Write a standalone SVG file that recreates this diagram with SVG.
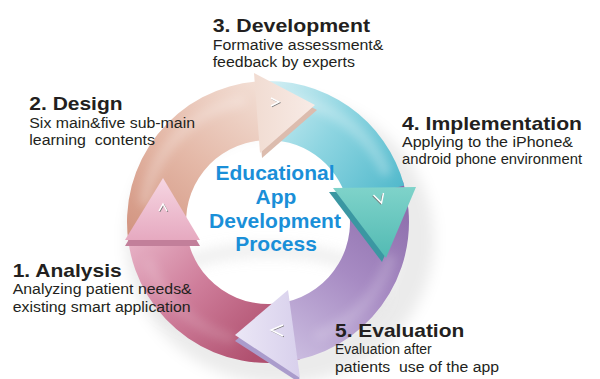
<svg xmlns="http://www.w3.org/2000/svg" width="600" height="379" viewBox="0 0 600 379">
<style>
.h{font-family:"Liberation Sans",Arial,sans-serif;font-weight:bold;font-size:19px;fill:#231f20}
.b{font-family:"Liberation Sans",Arial,sans-serif;font-size:14px;fill:#231f20;white-space:pre}
.c{font-family:"Liberation Sans",Arial,sans-serif;font-weight:bold;font-size:21px;fill:#1a8fd8;text-anchor:middle}
.chev{fill:none;stroke:#ffffff;stroke-width:1.4;stroke-linejoin:miter}
.chevs{fill:none;stroke:#7a7a7a;stroke-width:1.2}
.gloss{fill:none;stroke:#ffffff;stroke-linecap:round}
</style>
<defs>
<filter id="blur" x="-30%" y="-30%" width="160%" height="160%"><feGaussianBlur stdDeviation="7"/></filter>
<filter id="soft" x="-30%" y="-30%" width="160%" height="160%"><feGaussianBlur stdDeviation="4"/></filter>
<linearGradient id="gPink" gradientUnits="userSpaceOnUse" x1="260" y1="352" x2="140" y2="235">
<stop offset="0" stop-color="#b0506f"/><stop offset="0.55" stop-color="#cf7e9b"/><stop offset="1" stop-color="#e6b0c4"/></linearGradient>
<linearGradient id="gBeige" gradientUnits="userSpaceOnUse" x1="135" y1="240" x2="255" y2="85">
<stop offset="0" stop-color="#d29480"/><stop offset="0.5" stop-color="#e4b8a7"/><stop offset="1" stop-color="#f2ddd3"/></linearGradient>
<linearGradient id="gCyan" gradientUnits="userSpaceOnUse" x1="262" y1="90" x2="405" y2="195">
<stop offset="0" stop-color="#d4eff4"/><stop offset="0.45" stop-color="#8ed5e1"/><stop offset="1" stop-color="#4db7ca"/></linearGradient>
<linearGradient id="gPurple" gradientUnits="userSpaceOnUse" x1="405" y1="190" x2="290" y2="358">
<stop offset="0" stop-color="#8a6aa9"/><stop offset="0.5" stop-color="#a78bc3"/><stop offset="1" stop-color="#cbbde0"/></linearGradient>
<linearGradient id="hPink" x1="0" y1="1" x2="0" y2="0">
<stop offset="0" stop-color="#e6a9c0"/><stop offset="1" stop-color="#f6d6e2"/></linearGradient>
<linearGradient id="hBeige" x1="0" y1="0" x2="1" y2="0">
<stop offset="0" stop-color="#f1dcd2"/><stop offset="1" stop-color="#f8ebe6"/></linearGradient>
<linearGradient id="hCyan" x1="0" y1="0" x2="0" y2="1">
<stop offset="0" stop-color="#7fd3ca"/><stop offset="1" stop-color="#52bab3"/></linearGradient>
<linearGradient id="hPurple" x1="1" y1="0" x2="0" y2="0">
<stop offset="0" stop-color="#d8d0ec"/><stop offset="1" stop-color="#ebe7f6"/></linearGradient>
</defs>

<g id="shadow">
<ellipse cx="280" cy="240" rx="136" ry="126" fill="none" stroke="#000" stroke-opacity="0.08" stroke-width="36" filter="url(#blur)"/>
<ellipse cx="268" cy="292" rx="112" ry="42" fill="none" stroke="#cfcfcf" stroke-opacity="0.45" stroke-width="10" filter="url(#blur)"/>
</g>

<g id="connectors">
<path d="M128.74,244.06 A141,141 0 0 1 258.16,81.34 L262.28,140.20 A82,82 0 0 0 187.01,234.83 Z" fill="url(#gBeige)"/>
<path d="M299.72,359.39 A141,141 0 0 1 128.37,241.62 L186.80,233.41 A82,82 0 0 0 286.45,301.90 Z" fill="url(#gPink)"/>
<path d="M402.84,180.78 A141,141 0 0 1 297.32,359.92 L285.05,302.21 A82,82 0 0 0 346.42,198.03 Z" fill="url(#gPurple)"/>
<path d="M255.71,81.54 A141,141 0 0 1 404.20,185.51 L347.21,200.78 A82,82 0 0 0 260.85,140.31 Z" fill="url(#gCyan)"/>
<g filter="url(#soft)">
<path class="gloss" d="M145,200 A124,124 0 0 1 240,101" stroke-width="12" stroke-opacity="0.22"/>
<path class="gloss" d="M290,99 A124,124 0 0 1 385,170" stroke-width="12" stroke-opacity="0.25"/>
<path class="gloss" d="M390,260 A124,124 0 0 1 320,335" stroke-width="12" stroke-opacity="0.15"/>
<path class="gloss" d="M230,338 A124,124 0 0 1 150,265" stroke-width="12" stroke-opacity="0.12"/>
</g>
<g id="head-pink">
<polygon points="125,246 163,183 200,246" fill="#c27f9a"/>
<polygon points="125,240 163,178 200,240" fill="url(#hPink)"/>
<polyline class="chevs" points="159,211 163,204 167,211" transform="translate(0.8,0.8)"/>
<polyline class="chev" points="159,211 163,204 167,211"/>
</g>
<g id="head-beige">
<polygon points="256,78 317,110 262,158" fill="#dcbcae"/>
<polygon points="254,73 315,105 260,153" fill="url(#hBeige)"/>
<polyline class="chevs" points="271,98 279,102 271,106" transform="translate(0.8,0.8)"/>
<polyline class="chev" points="271,98 279,102 271,106"/>
</g>
<g id="head-cyan">
<polygon points="329,192 412,191 382,262" fill="#3b97a2"/>
<polygon points="333,188 416,187 386,258" fill="url(#hCyan)"/>
<polyline class="chevs" points="373.5,195 381.5,203 383.5,193" transform="translate(-0.8,0.8)"/>
<polyline class="chev" points="373.5,195 381.5,203 383.5,193"/>
</g>
<g id="head-purple">
<polygon points="288,295 235,341 300,383" fill="#aa9ccc"/>
<polygon points="288,290 235,335 300,378" fill="url(#hPurple)"/>
<polyline class="chevs" points="283,325 271,330 283,336" transform="translate(0.8,0.8)"/>
<polyline class="chev" points="283,325 271,330 283,336"/>
</g>
</g>

<g id="title">
<text class="c" x="275" y="180">Educational</text>
<text class="c" x="276" y="204">App</text>
<text class="c" x="275" y="228">Development</text>
<text class="c" x="276" y="251">Process</text>
</g>

<g id="step1">
<text class="h" x="12.7" y="277" textLength="109" lengthAdjust="spacingAndGlyphs">1. Analysis</text>
<text class="b" x="12.7" y="294" textLength="179" lengthAdjust="spacingAndGlyphs">Analyzing patient needs&amp;</text>
<text class="b" x="12.7" y="311.5" textLength="178" lengthAdjust="spacingAndGlyphs">existing smart application</text>
</g>
<g id="step2">
<text class="h" x="29.3" y="110" textLength="93.3" lengthAdjust="spacingAndGlyphs">2. Design</text>
<text class="b" x="29.3" y="127.5" textLength="165.7" lengthAdjust="spacingAndGlyphs">Six main&amp;five sub-main</text>
<text class="b" x="29.3" y="145" textLength="125.7" lengthAdjust="spacingAndGlyphs" xml:space="preserve">learning  contents</text>
</g>
<g id="step3">
<text class="h" x="212.7" y="31.5" textLength="157.3" lengthAdjust="spacingAndGlyphs">3. Development</text>
<text class="b" x="212.7" y="50" textLength="170.7" lengthAdjust="spacingAndGlyphs">Formative assessment&amp;</text>
<text class="b" x="212.7" y="67.3" textLength="142.3" lengthAdjust="spacingAndGlyphs">feedback by experts</text>
</g>
<g id="step4">
<text class="h" x="402" y="130" textLength="180" lengthAdjust="spacingAndGlyphs">4. Implementation</text>
<text class="b" x="402" y="146.7" textLength="171" lengthAdjust="spacingAndGlyphs">Applying to the iPhone&amp;</text>
<text class="b" x="402" y="164" textLength="180" lengthAdjust="spacingAndGlyphs">android phone environment</text>
</g>
<g id="step5">
<text class="h" x="335" y="336.7" textLength="129.3" lengthAdjust="spacingAndGlyphs">5. Evaluation</text>
<text class="b" x="335" y="354.3" textLength="96.7" lengthAdjust="spacingAndGlyphs">Evaluation after</text>
<text class="b" x="335" y="371.7" textLength="164" lengthAdjust="spacingAndGlyphs" xml:space="preserve">patients  use of the app</text>
</g>
</svg>
